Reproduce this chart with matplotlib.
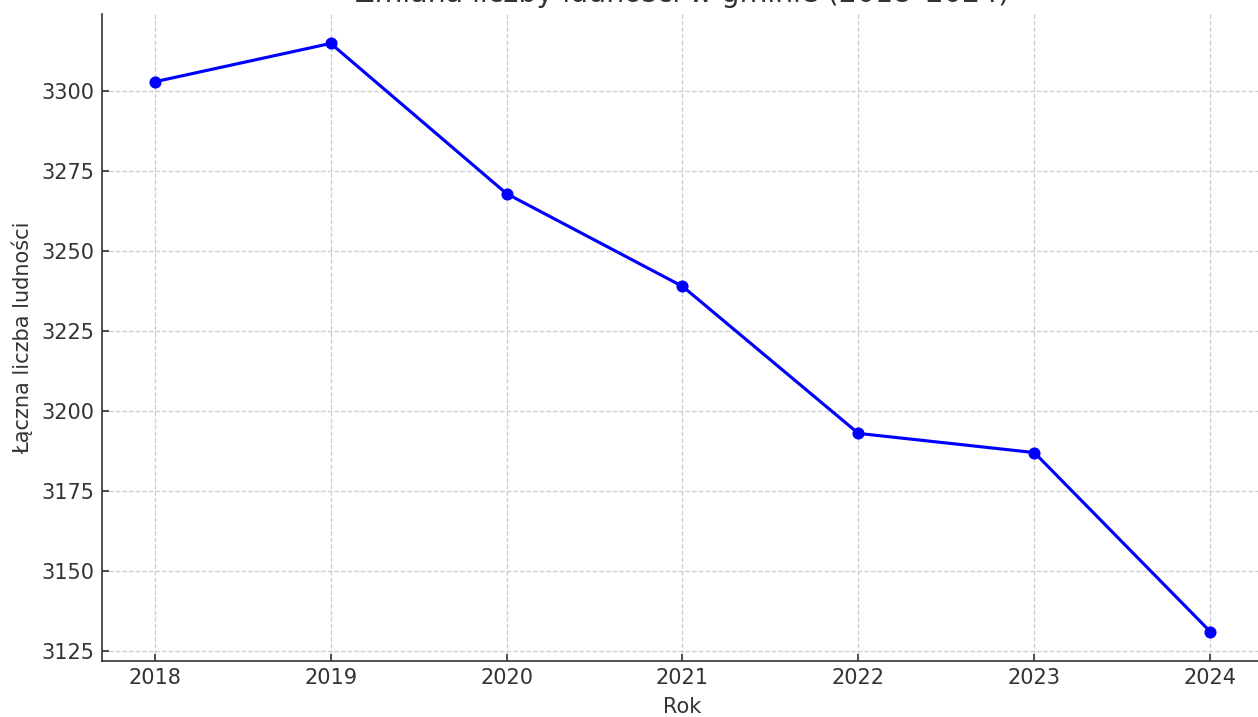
import matplotlib
matplotlib.use("Agg")
import matplotlib.pyplot as plt

lata = [2018, 2019, 2020, 2021, 2022, 2023, 2024]
ludnosc = [3303, 3315, 3268, 3239, 3193, 3187, 3131]
y_ticks = [3125, 3150, 3175, 3200, 3225, 3250, 3275, 3300]

plt.rcParams["text.color"] = "#333333"
plt.rcParams["axes.labelcolor"] = "#333333"
plt.rcParams["xtick.color"] = "#333333"
plt.rcParams["ytick.color"] = "#333333"
plt.rcParams["axes.edgecolor"] = "#333333"
plt.rcParams["xtick.direction"] = "in"
plt.rcParams["ytick.direction"] = "in"

DPI = 150
fig = plt.figure(figsize=(1258 / DPI, 717 / DPI), dpi=DPI)
ax = fig.add_axes([102 / 1258, 56 / 717, 1161 / 1258, 647 / 717])

ax.plot(lata, ludnosc, marker="o", color="blue", linewidth=1.5, markersize=4.8)
ax.set_title("Zmiana liczby ludności w gminie (2018–2024)", fontsize=13.7)
ax.set_xlabel("Rok")
ax.set_ylabel("Łączna liczba ludności")
ax.set_xticks(lata)
ax.set_yticks(y_ticks)
ax.grid(True, linestyle="--", color="#cccccc", linewidth=0.6)
ax.spines["top"].set_visible(False)
ax.spines["right"].set_visible(False)

fig.savefig("out.png", dpi=DPI)
